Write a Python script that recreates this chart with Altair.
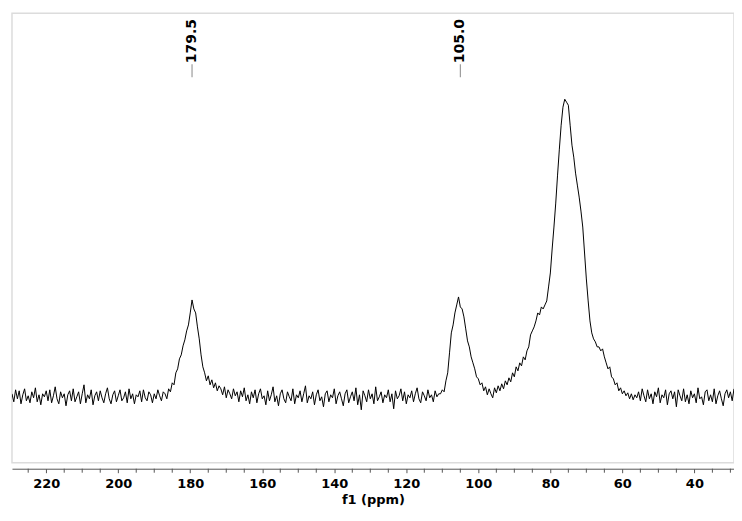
import altair as alt
import pandas as pd

# Spectrum intensities on a 0.5 ppm grid (descending ppm)
# Segment A: 229.5 -> 187.5 ppm (baseline)
seg_a_start = 229.5
seg_a = [3, -5, 7, -2, 6, -7, 2, 8, -4, 1,
         -6, 5, -1, 9, -5, 2, -8, 3, 0, 6,
         -4, 7, -6, 1, 10, -2, -7, 5, -1, 3,
         -9, 2, 6, -4, 8, -5, 0, 5, -7, 3,
         12, -6, 2, -2, 7, -8, 1, 5, -4, 6,
         -1, -6, 3, 9, -2, -7, 2, 6, -5, 1,
         7, -4, -1, 5, -6, 8, -2, 3, -7, 2,
         0, 6, -5, 7, -1, -4, 5, 2, -6, 3,
         -2, 7, 1, -4, 5]
# Segment B: 187 -> 172 ppm (carbonyl peak at 179.5)
seg_b_start = 187.0
seg_b = [3, -2, 8, 5, 14, 12, 24, 28, 38, 42,
         51, 57, 66, 72, 84, 97, 88, 84, 70, 58,
         42, 30, 24, 16, 21, 12, 17, 9, 14, 6,
         11]
# Segment C: 171.5 -> 111 ppm (baseline)
seg_c_start = 171.5
seg_c = [8, 2, 10, -1, 7, 3, -2, 8, 1, 5,
         -5, 6, 0, 9, -4, 2, -7, 5, -1, 7,
         -6, 3, 8, -2, 1, -8, 6, -4, 2, 10,
         -5, 1, -9, 3, 7, -2, -6, 5, 0, -4,
         8, -7, 2, -1, 6, -5, 3, 11, -6, 1,
         -2, 5, -8, 2, 7, -4, 0, -10, 3, 6,
         -5, 2, -1, 8, -7, 1, 5, -2, -9, 3,
         7, -6, 0, 5, -4, 9, -8, 2, -13, 6,
         1, -5, 7, -2, 3, -7, 10, -4, 0, 5,
         -6, 2, -1, 7, -5, 3, -12, 6, -2, 1,
         8, -4, 5, -7, 2, -1, 6, -5, 3, 9,
         -2, -6, 5, 1, -4, 7, -1, 2, -5, 6,
         0, 3]
# Segment D: 110.5 -> 82.5 ppm (peak at 105.0 and rising shoulder)
seg_d_start = 110.5
seg_d = [3, 7, 5, 16, 24, 44, 64, 72, 84, 92,
         100, 90, 88, 80, 68, 56, 50, 40, 34, 28,
         20, 18, 12, 14, 6, 10, 2, 8, 3, -1,
         9, 4, 11, 6, 13, 8, 16, 12, 19, 15,
         24, 20, 30, 26, 34, 31, 40, 37, 46, 50,
         62, 66, 70, 76, 84, 82, 90]
# Segment E: 82 -> 56 ppm (main peak near 76)
seg_e_start = 82.0
seg_e = [88, 92, 96, 110, 124, 148, 170, 194, 222, 248,
         272, 290, 298, 295, 292, 272, 252, 240, 224, 212,
         200, 186, 170, 144, 118, 96, 76, 64, 58, 55,
         50, 50, 46, 48, 40, 34, 28, 30, 20, 18,
         12, 14, 6, 9, 3, 6, 1, 4, -2, 3,
         -3, 2, -1]
# Segment F: 55.5 -> 29 ppm (baseline)
seg_f_start = 55.5
seg_f = [5, -4, 8, 1, -5, 7, -2, 3, -7, 5,
         0, 9, -6, 2, -1, 7, -8, 3, 6, -2,
         5, -10, 7, 1, -4, 8, -5, 2, -7, 6,
         -1, 3, -6, 9, -2, 0, -8, 5, 7, -4,
         2, -5, 8, -7, 1, 6, -2, -9, 3, 7,
         -1, 5, -4, 8]

peak_ppm = [179.5, 105.0]
peak_text = ["179.5", "105.0"]
major_ticks = [40, 60, 80, 100, 120, 140, 160, 180, 200, 220]
minor_ticks = [30, 35, 45, 50, 55, 65, 70, 75, 85, 90, 95, 105, 110, 115, 125,
               130, 135, 145, 150, 155, 165, 170, 175, 185, 190, 195, 205, 210,
               215, 225]

rows = []
order = 0
for start, vals in [(seg_a_start, seg_a), (seg_b_start, seg_b), (seg_c_start, seg_c),
                    (seg_d_start, seg_d), (seg_e_start, seg_e), (seg_f_start, seg_f)]:
    for i, v in enumerate(vals):
        rows.append({"ppm": start - 0.5 * i, "intensity": v, "order": order})
        order += 1
spec = pd.DataFrame(rows)
peaks = pd.DataFrame({"ppm": peak_ppm, "label": peak_text})
minor = pd.DataFrame({"ppm": minor_ticks})

xscale = alt.Scale(domain=[29, 229.5], reverse=True, nice=False, zero=False)
yscale = alt.Scale(domain=[-66, 384], nice=False, zero=False)

line = alt.Chart(spec).mark_line(color="black", strokeWidth=1, clip=True).encode(
    x=alt.X("ppm:Q", scale=xscale,
            axis=alt.Axis(values=major_ticks, format="d", labelOverlap=False,
                          title="f1 (ppm)", grid=False, offset=6,
                          tickSize=4, tickColor="#555", domainColor="#555",
                          labelFont="DejaVu Sans", labelFontWeight="bold",
                          labelFontSize=13, labelColor="black", labelPadding=5,
                          titleFont="DejaVu Sans", titleFontWeight="bold",
                          titleFontSize=13, titleColor="black", titlePadding=3)),
    y=alt.Y("intensity:Q", scale=yscale, axis=None),
    order="order:Q",
)

minor_rules = alt.Chart(minor).mark_rule(color="#555", strokeWidth=1).encode(
    x=alt.X("ppm:Q", scale=xscale),
    y=alt.value(456),
    y2=alt.value(460),
)

labels = alt.Chart(peaks).mark_text(
    angle=270, align="left", baseline="middle", font="DejaVu Sans",
    fontWeight="bold", fontSize=14, color="black"
).encode(
    x=alt.X("ppm:Q", scale=xscale),
    y=alt.value(50),
    text="label:N",
)

ticks = alt.Chart(peaks).mark_rule(color="#888", strokeWidth=1).encode(
    x=alt.X("ppm:Q", scale=xscale),
    y=alt.value(51),
    y2=alt.value(64),
)

chart = alt.layer(line, minor_rules, ticks, labels).properties(
    width=723, height=450,
    padding={"left": 4, "top": 5, "right": 0, "bottom": 0},
).configure_view(stroke="#dcdcdc", strokeWidth=1.5)

chart.save("out.html", embed_options={"renderer": "svg", "actions": False})
